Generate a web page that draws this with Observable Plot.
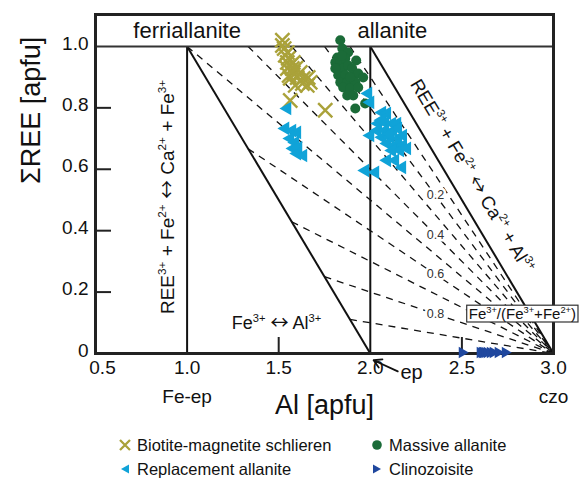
<!DOCTYPE html>
<html><head><meta charset="utf-8">
<script src="https://cdn.jsdelivr.net/npm/d3@7"></script>
<script src="https://cdn.jsdelivr.net/npm/@observablehq/plot@0.6"></script>
<style>
body{margin:0;background:#fff;font-family:"Liberation Sans",Arial,sans-serif;}
#wrap{width:579px;}
.legend{position:relative;height:48px;width:579px;font-size:16px;color:#111;}
.item{position:absolute;display:flex;align-items:center;height:24px;white-space:nowrap;}
.item svg{margin-right:5px;}
</style></head><body><div id="wrap"></div>
<script>
const FONT = '"Liberation Sans", Arial, sans-serif';
const xTicks = [0.5, 1.0, 1.5, 2.0, 2.5, 3.0];
const yTicks = [0, 0.2, 0.4, 0.6, 0.8, 1.0];

// Biotite-magnetite schlieren
const bioX = [1.520,1.520,1.530,1.536,1.547,1.552,1.547,1.580,1.563,1.547,1.574,1.580,1.563,1.601,1.618,1.634,1.661,1.629,1.656,1.672,1.590,1.563,1.754,1.557,1.595];
const bioY = [1.020,1.003,0.993,0.971,0.980,0.961,0.948,0.948,0.938,0.928,0.928,0.915,0.896,0.899,0.915,0.896,0.899,0.879,0.873,0.883,0.873,0.824,0.792,0.905,0.930];
// Massive allanite
const masX = [1.836,1.847,1.879,1.820,1.809,1.836,1.863,1.923,1.820,1.852,1.879,1.901,1.809,1.825,1.863,1.907,1.934,1.961,1.836,1.874,1.918,1.852,1.890,1.934,1.874,1.907,1.918,1.972,1.845,1.890];
const masY = [1.020,0.993,0.980,0.964,0.948,0.948,0.961,0.954,0.928,0.928,0.938,0.928,0.928,0.906,0.906,0.906,0.912,0.899,0.883,0.883,0.883,0.866,0.863,0.866,0.840,0.840,0.798,0.814,0.970,0.900];
// Replacement allanite
const repX = [1.547,1.536,1.574,1.601,1.563,1.590,1.580,1.607,1.601,1.634,1.989,2.000,2.065,2.092,2.043,2.081,2.119,2.147,2.038,2.081,2.125,2.152,2.000,2.065,2.109,2.152,2.179,2.092,2.136,2.179,2.119,2.163,2.201,2.092,2.136,2.174,1.972,2.027,2.060,2.105];
const repY = [0.798,0.733,0.726,0.720,0.700,0.687,0.668,0.671,0.651,0.645,0.847,0.818,0.785,0.782,0.749,0.752,0.749,0.749,0.726,0.726,0.726,0.733,0.710,0.704,0.704,0.700,0.710,0.684,0.678,0.678,0.661,0.661,0.668,0.629,0.629,0.606,0.596,0.590,0.760,0.715];
// Clinozoisite
const czoX = [2.501,2.599,2.610,2.616,2.625,2.637,2.654,2.670,2.697,2.736];
const czoY = [0.003,0.003,0.003,0.003,0.003,0.003,0.003,0.003,0.003,0.003];

// Fe3+/(Fe3++Fe2+) isolines: start points, all ending at czo (3,0)
const ratioVals = [0.1,0.2,0.3,0.4,0.5,0.6,0.7,0.8,0.9];
const ratioStartX = [1.889,1.75,1.571,1.333,1.0,1.333,1.571,1.75,1.889];
const ratioStartY = [1,1,1,1,1,0.667,0.429,0.25,0.111];
const ratioLabelText = ["0.2","0.4","0.6","0.8"];
const ratioLabelX = [2.356,2.356,2.356,2.356];
const ratioLabelY = [0.515,0.386,0.258,0.129];

// solid boundary lines
const solidX1 = [1.0, 2.0, 1.0, 2.0];
const solidY1 = [0, 0, 1.0, 1.0];
const solidX2 = [1.0, 2.0, 2.0, 3.0];
const solidY2 = [1.0, 1.0, 0, 0];

const C_BIO = "#aaa23a", C_MAS = "#1b6b38", C_REP = "#10a3d8", C_CZO = "#1f479e";

const W = 579, H = 432, mL = 95, mR = 26, mT = 14, mB = 79;
const plotW = W - mL - mR, plotH = H - mT - mB;

const pts = (xs, ys) => xs.map((x, i) => ({x, y: ys[i]}));
const dashData = ratioVals.map((r, i) => ({x1: ratioStartX[i], y1: ratioStartY[i], x2: 3.0, y2: 0}));
const solidData = solidX1.map((x, i) => ({x1: x, y1: solidY1[i], x2: solidX2[i], y2: solidY2[i]}));
const rLabels = ratioLabelText.map((t, i) => ({t, x: ratioLabelX[i], y: ratioLabelY[i]}));

const LEFT_TXT = "REE^{3+} + Fe^{2+} ↔ Ca^{2+} + Fe^{3+}";
const RIGHT_TXT = "REE^{3+} + Fe^{2+} ↔ Ca^{2+} + Al^{3+}";
const SUB_TXT = "Fe^{3+} ↔ Al^{3+}";
const BOX_TXT = "Fe^{3+}/(Fe^{3+}+Fe^{2+})";

const plot = Plot.plot({
  width: W, height: H, marginLeft: mL, marginRight: mR, marginTop: mT, marginBottom: mB,
  style: {fontFamily: FONT, background: "#fff", overflow: "visible", color: "#111"},
  x: {domain: [0.5, 3.0]},
  y: {domain: [0, 1.104]},
  marks: [
    Plot.link(dashData, {x1: "x1", y1: "y1", x2: "x2", y2: "y2", stroke: "#111", strokeWidth: 1.3, strokeDasharray: "7,6"}),
    Plot.text(rLabels, {x: "x", y: "y", text: "t", fontSize: 12.5, fill: "#333", stroke: "white", strokeWidth: 5}),
    Plot.link(solidData, {x1: "x1", y1: "y1", x2: "x2", y2: "y2", stroke: "#111", strokeWidth: 2}),
    Plot.ruleY([1.0], {stroke: "#333", strokeWidth: 2}),
    Plot.tickY(yTicks.filter(d => d > 0 && d < 1), {y: d => d, insetRight: plotW - 16, stroke: "#222", strokeWidth: 2}),
    Plot.tickX([1.5, 2.5], {x: d => d, insetTop: plotH - 16, stroke: "#222", strokeWidth: 2}),
    Plot.frame({stroke: "#222", strokeWidth: 3}),
    Plot.axisX({ticks: xTicks, tickSize: 0, tickPadding: 7, tickFormat: d => d.toFixed(1), fontSize: 19, label: null}),
    Plot.axisY({ticks: yTicks, tickSize: 0, tickPadding: 7, dy: -3, tickFormat: d => d === 0 ? "0" : d.toFixed(1), fontSize: 19, label: null}),
    // data
    Plot.dot(pts(bioX, bioY), {x: "x", y: "y", symbol: "times", r: 6.5, stroke: C_BIO, strokeWidth: 2.4}),
    Plot.dot(pts(masX, masY), {x: "x", y: "y", symbol: "circle", r: 5, fill: C_MAS}),
    Plot.dot(pts(repX, repY), {x: "x", y: "y", symbol: "triangle2", r: 6.5, fill: C_REP, rotate: -90}),
    Plot.dot(pts(czoX, czoY), {x: "x", y: "y", symbol: "triangle2", r: 5.5, fill: C_CZO, rotate: 90}),
    // annotations
    Plot.text(["ferriallanite"], {x: 1.0, y: 1.052, fontSize: 22, fill: "#111"}),
    Plot.text(["allanite"], {x: 2.12, y: 1.052, fontSize: 22, fill: "#111"}),
    Plot.text([LEFT_TXT], {x: 0.893, y: 0.51, rotate: -90, fontSize: 19, fill: "#111"}),
    Plot.text([RIGHT_TXT], {x: 2.555, y: 0.578, rotate: 59, fontSize: 18.5, fill: "#111"}),
    Plot.text([SUB_TXT], {x: 1.488, y: 0.098, fontSize: 18, fill: "#111"}),
    Plot.text([BOX_TXT], {x: 2.83, y: 0.128, fontSize: 15, fill: "#111"}),
    Plot.arrow([{x1: 2.15, y1: -0.058, x2: 2.018, y2: -0.022}], {x1: "x1", y1: "y1", x2: "x2", y2: "y2", stroke: "#111", strokeWidth: 1.8, headLength: 8}),
    Plot.text(["ep"], {x: 2.225, y: -0.062, fontSize: 20, fill: "#111"}),
    Plot.text(["Fe-ep"], {x: 1.0, y: 0, dy: 43, fontSize: 19, fill: "#111"}),
    Plot.text(["czo"], {x: 3.0, y: 0, dy: 43, fontSize: 19, fill: "#111"}),
    Plot.text(["Al [apfu]"], {frameAnchor: "bottom", dy: 60, fontSize: 27, fill: "#111"}),
    Plot.text(["ΣREE [apfu]"], {frameAnchor: "left", dx: -64, rotate: -90, fontSize: 27, fill: "#111"})
  ]
});

const wrap = document.getElementById("wrap");
wrap.appendChild(plot);

// nudge the first x tick label right, as in the reference, so it clears the y "0"
d3.select(plot).selectAll("[aria-label='x-axis tick label'] text").each(function() {
  if (this.textContent === "0.5") this.setAttribute("dx", 7);
});

// rich text: superscripts and a wide double arrow
function richify(el, src) {
  const size = parseFloat(el.getAttribute("font-size") || el.parentNode.getAttribute("font-size") || 16);
  const supSize = size * 0.62, shift = size * 0.42;
  const NS = "http://www.w3.org/2000/svg";
  while (el.firstChild) el.removeChild(el.firstChild);
  const re = /\^\{([^}]*)\}/g;
  let last = 0, m, pendingDown = 0;
  const add = (txt, attrs) => {
    const t = document.createElementNS(NS, "tspan");
    for (const k in attrs) t.setAttribute(k, attrs[k]);
    t.textContent = txt;
    el.appendChild(t);
  };
  const addPlain = (txt) => {
    const parts = txt.split("↔");
    parts.forEach((p, i) => {
      if (i > 0) {
        const a = {"font-family": "Noto Sans CJK SC", "font-size": size * 1.0};
        if (pendingDown) { a.dy = pendingDown; pendingDown = 0; }
        add("↔", a);
      }
      if (p.length) {
        const a = {};
        if (pendingDown) { a.dy = pendingDown; pendingDown = 0; }
        add(p, a);
      }
    });
  };
  while ((m = re.exec(src))) {
    addPlain(src.slice(last, m.index));
    add(m[1], {"font-size": supSize, dy: -shift + pendingDown});
    pendingDown = shift;
    last = re.lastIndex;
  }
  addPlain(src.slice(last));
}
d3.select(plot).selectAll("text").each(function() {
  const s = this.textContent;
  if (s.includes("^{")) {
    richify(this, s);
    if (s === BOX_TXT) {
      const b = this.getBBox();
      const r = document.createElementNS("http://www.w3.org/2000/svg", "rect");
      r.setAttribute("x", b.x - 2); r.setAttribute("y", b.y + 0.5);
      r.setAttribute("width", b.width + 4); r.setAttribute("height", b.height - 0.5);
      r.setAttribute("fill", "white"); r.setAttribute("stroke", "#333"); r.setAttribute("stroke-width", 1.2);
      const t = this.getAttribute("transform");
      if (t) r.setAttribute("transform", t);
      this.parentNode.insertBefore(r, this);
    }
  }
});

// legend
const legendItems = [
  {label: "Biotite-magnetite schlieren", kind: "x", color: C_BIO, left: 118, top: 1},
  {label: "Massive allanite", kind: "circle", color: C_MAS, left: 370, top: 1},
  {label: "Replacement allanite", kind: "tl", color: C_REP, left: 118, top: 25},
  {label: "Clinozoisite", kind: "tr", color: C_CZO, left: 370, top: 25}
];
const leg = document.createElement("div");
leg.className = "legend";
for (const it of legendItems) {
  const d = document.createElement("div");
  d.className = "item";
  d.style.left = it.left + "px"; d.style.top = it.top + "px";
  let shape = "";
  if (it.kind === "x") shape = `<path d="M2,2L12,12M12,2L2,12" stroke="${it.color}" stroke-width="2.3"/>`;
  else if (it.kind === "circle") shape = `<circle cx="7" cy="7" r="4.8" fill="${it.color}"/>`;
  else if (it.kind === "tl") shape = `<path d="M3,7L11,2.5L11,11.5Z" fill="${it.color}"/>`;
  else shape = `<path d="M11,7L3,2.5L3,11.5Z" fill="${it.color}"/>`;
  d.innerHTML = `<svg width="14" height="14">${shape}</svg><span style="font-size:16.5px">${it.label}</span>`;
  leg.appendChild(d);
}
wrap.appendChild(leg);
</script>
</body></html>
